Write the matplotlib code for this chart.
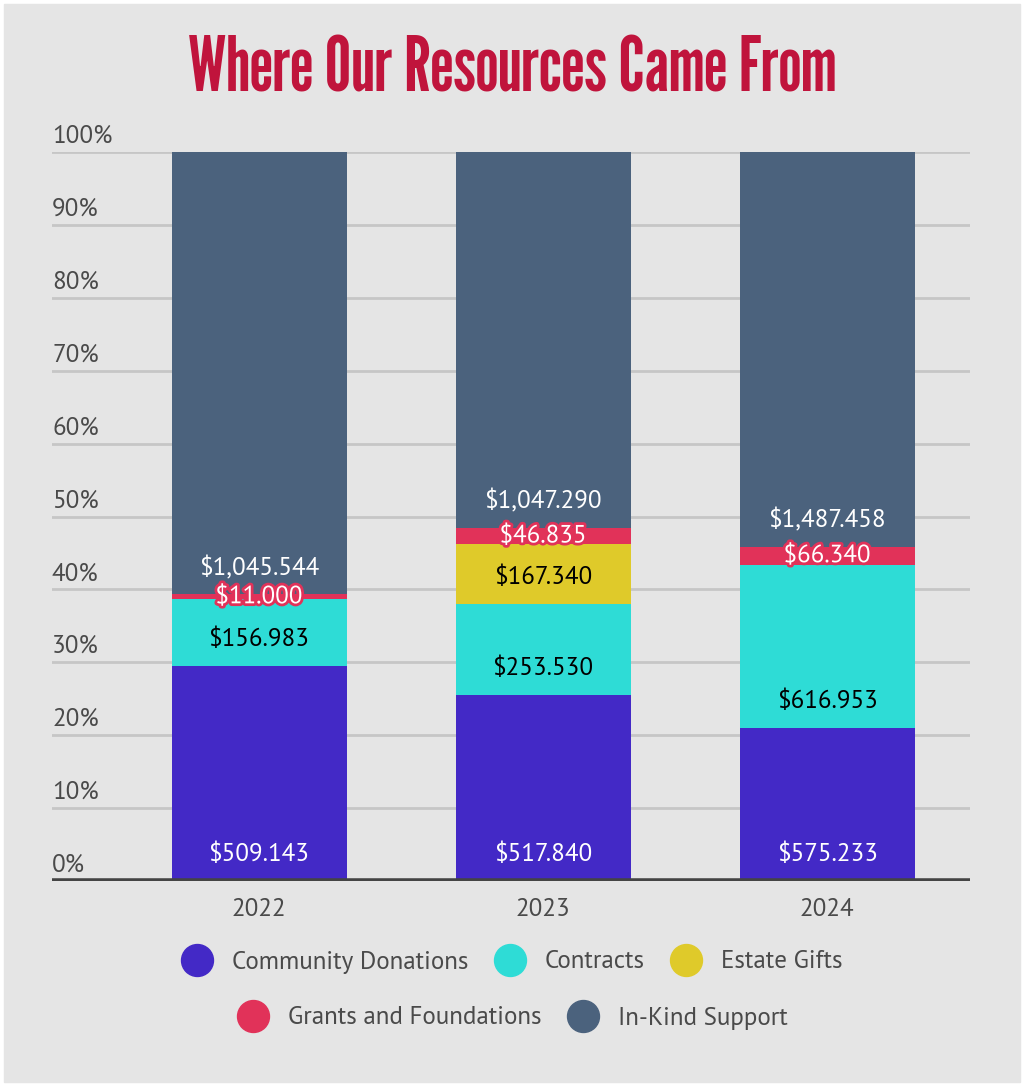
import numpy as np
import matplotlib
matplotlib.use("Agg")
import matplotlib.pyplot as plt
import matplotlib.patheffects as pe
from matplotlib.lines import Line2D
from matplotlib.patches import Rectangle

# Stacked 100% bars: where the resources came from, by year

years = ["2022", "2023", "2024"]
series = ["Community Donations", "Contracts", "Estate Gifts",
          "Grants and Foundations", "In-Kind Support"]
community = [509143, 517840, 575233]
contracts = [156983, 253530, 616953]
estate = [0, 167340, 0]
grants = [11000, 46835, 66340]
inkind = [1045544, 1047290, 1487458]
# labels as printed on the chart
community_lbl = ["$509.143", "$517.840", "$575.233"]
contracts_lbl = ["$156.983", "$253.530", "$616.953"]
estate_lbl = ["", "$167.340", ""]
grants_lbl = ["$11.000", "$46.835", "$66.340"]
inkind_lbl = ["$1,045.544", "$1,047.290", "$1,487.458"]
yticks = [0, 10, 20, 30, 40, 50, 60, 70, 80, 90, 100]

colors = ["#4329c6", "#2edcd6", "#dfca2a", "#e13259", "#4b627d"]
text_colors = ["white", "black", "black", "white", "white"]

BG = "#e5e5e5"
TXT = "#4a4a4a"
FONT = ["PT Sans", "Lato", "DejaVu Sans"]
TITLE_FONT = ["League Gothic", "Oswald", "Fjalla One", "DejaVu Sans"]

W, H = 1024, 1086
fig = plt.figure(figsize=(W / 100, H / 100), dpi=100, facecolor="white")
fig.patches.append(Rectangle((4 / W, 4 / H), 1016 / W, 1078 / H,
                             transform=fig.transFigure, color=BG, zorder=-10))

ax = fig.add_axes([52 / W, (H - 881) / H, 918 / W, 729 / H])
ax.set_facecolor("none")

data = np.array([community, contracts, estate, grants, inkind], dtype=float)
pct = data / data.sum(axis=0) * 100
labels = [community_lbl, contracts_lbl, estate_lbl, grants_lbl, inkind_lbl]

x = np.arange(len(years))
bottom = np.zeros(len(years))
for i, name in enumerate(series):
    ax.bar(x, pct[i], 0.616, bottom=bottom, color=colors[i], label=name,
           zorder=2)
    for j in range(len(years)):
        if not labels[i][j]:
            continue
        if i == 3:
            # small grants segment: centred, with outline
            ax.text(x[j], bottom[j] + pct[i][j] / 2, labels[i][j],
                    ha="center", va="center", color="white", fontsize=18,
                    family=FONT, zorder=4,
                    path_effects=[pe.withStroke(linewidth=4,
                                                foreground=colors[3])])
        else:
            ax.annotate(labels[i][j], (x[j], bottom[j]),
                        xytext=(0, 19), textcoords="offset points",
                        ha="center", va="center", color=text_colors[i],
                        fontsize=18, family=FONT, zorder=4)
    bottom += pct[i]

ax.set_xlim(-0.729, 2.503)
ax.set_ylim(0, 100)
for t in yticks[1:]:
    ax.axhline(t, color="#c6c6c6", lw=2, zorder=1)
ax.axhline(0, color="#444444", lw=4, zorder=3)
for t in yticks:
    ax.annotate(f"{t}%", (0, t), xycoords=("axes fraction", "data"),
                xytext=(0, 3), textcoords="offset points",
                ha="left", va="bottom", color=TXT, fontsize=18, family=FONT)

ax.set_xticks(x, years)
ax.set_yticks([])
ax.tick_params(axis="x", length=0, pad=12, labelsize=18, labelcolor=TXT)
for lab in ax.get_xticklabels():
    lab.set_family(FONT)
for s in ax.spines.values():
    s.set_visible(False)

fig.text(0.5, 1 - 71 / H, "Where Our Resources Came From",
         ha="center", va="center", color="#c0143c", fontsize=54,
         family=TITLE_FONT)

handles = [Line2D([], [], marker="o", ls="", markersize=23,
                  markerfacecolor=c, markeredgecolor=c) for c in colors]
leg_kw = dict(frameon=False, handlelength=1.3, handletextpad=0.75,
              columnspacing=1.0, prop={"family": FONT, "size": 18},
              labelcolor=TXT, loc="center")
leg1 = fig.legend(handles[:3], series[:3], ncol=3,
                  bbox_to_anchor=(0.5, 1 - 962 / H), **leg_kw)
leg2 = fig.legend(handles[3:], series[3:], ncol=2,
                  bbox_to_anchor=(0.5, 1 - 1018 / H), **leg_kw)

fig.savefig("out.png", dpi=100, facecolor=fig.get_facecolor())
